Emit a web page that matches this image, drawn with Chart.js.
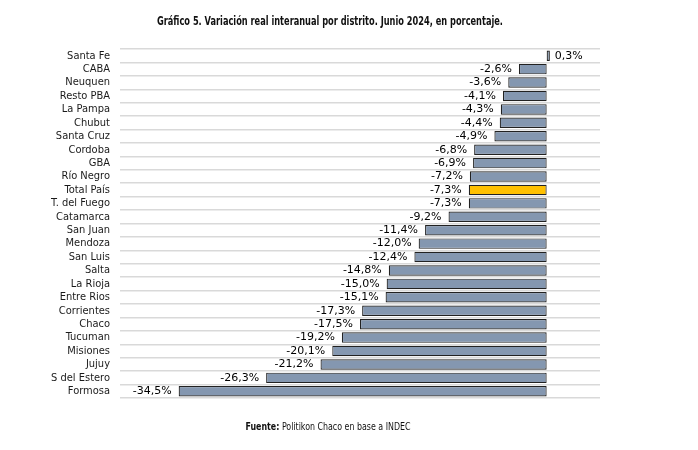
<!DOCTYPE html>
<html>
<head>
<meta charset="utf-8">
<script src="https://cdn.jsdelivr.net/npm/chart.js@4/dist/chart.umd.min.js"></script>
<style>
  html, body { margin: 0; padding: 0; background: #fff; }
  canvas { display: block; }
</style>
</head>
<body>
<canvas id="chart" width="698" height="450"></canvas>
<script>
  // Datos del gráfico
  const districts = ['Santa Fe', 'CABA', 'Neuquen', 'Resto PBA', 'La Pampa', 'Chubut', 'Santa Cruz',
    'Cordoba', 'GBA', 'Río Negro', 'Total País', 'T. del Fuego', 'Catamarca', 'San Juan', 'Mendoza',
    'San Luis', 'Salta', 'La Rioja', 'Entre Rios', 'Corrientes', 'Chaco', 'Tucuman', 'Misiones',
    'Jujuy', 'S del Estero', 'Formosa'];
  const variation = [0.3, -2.6, -3.6, -4.1, -4.3, -4.4, -4.9, -6.8, -6.9, -7.2, -7.3, -7.3, -9.2,
    -11.4, -12.0, -12.4, -14.8, -15.0, -15.1, -17.3, -17.5, -19.2, -20.1, -21.2, -26.3, -34.5];
  const highlight = 'Total País';

  const titleText = 'Gráfico 5. Variación real interanual por distrito. Junio 2024, en porcentaje.';
  const sourceBold = 'Fuente:';
  const sourceText = ' Politikon Chaco en base a INDEC';

  const narrow = '"DejaVu Sans Condensed", "Liberation Sans", sans-serif';

  const fmt = v => v.toFixed(1).replace('.', ',') + '%';

  // etiquetas de valor al extremo de cada barra
  const valueLabels = {
    id: 'valueLabels',
    afterDatasetsDraw(chart) {
      const ctx = chart.ctx;
      const meta = chart.getDatasetMeta(0);
      ctx.save();
      ctx.font = '11px "DejaVu Sans", Verdana, sans-serif';
      ctx.fillStyle = '#000';
      ctx.textBaseline = 'middle';
      meta.data.forEach((bar, i) => {
        const v = variation[i];
        if (v < 0) {
          ctx.textAlign = 'right';
          ctx.fillText(fmt(v), bar.x - 7, bar.y);
        } else {
          ctx.textAlign = 'left';
          ctx.fillText(fmt(v), bar.x + 5, bar.y);
        }
      });
      ctx.restore();
    }
  };

  // texto condensado: se comprime en x hasta el ancho deseado
  function squeezeText(ctx, parts, cx, cy, width) {
    let total = 0;
    parts.forEach(p => { ctx.font = p.font; p.w = ctx.measureText(p.text).width; total += p.w; });
    const k = Math.min(1, width / total);
    ctx.save();
    ctx.translate(cx - (total * k) / 2, cy);
    ctx.scale(k, 1);
    let x = 0;
    parts.forEach(p => {
      ctx.font = p.font;
      ctx.fillText(p.text, x, 0);
      x += p.w;
    });
    ctx.restore();
  }

  // título y fuente
  const headerFooter = {
    id: 'headerFooter',
    afterDraw(chart) {
      const ctx = chart.ctx;
      ctx.save();
      ctx.fillStyle = '#111';
      ctx.textBaseline = 'middle';
      ctx.textAlign = 'left';
      squeezeText(ctx, [{ text: titleText, font: 'bold 12.5px ' + narrow }], 330, 22, 346);
      squeezeText(ctx, [
        { text: sourceBold, font: 'bold 10px ' + narrow },
        { text: sourceText, font: '10px ' + narrow }
      ], 328, 427, 165);
      ctx.restore();
    }
  };

  new Chart(document.getElementById('chart'), {
    type: 'bar',
    data: {
      labels: districts,
      datasets: [{
        data: variation,
        backgroundColor: districts.map(d => d === highlight ? '#ffc000' : '#8497b0'),
        borderColor: '#222',
        borderWidth: 1.2,
        borderSkipped: false,
        barPercentage: 0.78,
        categoryPercentage: 1
      }]
    },
    options: {
      indexAxis: 'y',
      responsive: false,
      animation: false,
      layout: { padding: { top: 49, right: 98, bottom: 52, left: 0 } },
      plugins: {
        legend: { display: false },
        title: { display: false },
        tooltip: { enabled: false }
      },
      scales: {
        x: {
          display: false,
          min: -40,
          max: 5
        },
        y: {
          afterFit(scale) { scale.width = 120; },
          border: { display: false },
          grid: {
            color: '#d9d9d9',
            lineWidth: 1.5,
            drawTicks: false
          },
          ticks: {
            autoSkip: false,
            padding: 10,
            color: '#1a1a1a',
            font: { family: narrow, size: 11 }
          }
        }
      }
    },
    plugins: [valueLabels, headerFooter]
  });
</script>
</body>
</html>
